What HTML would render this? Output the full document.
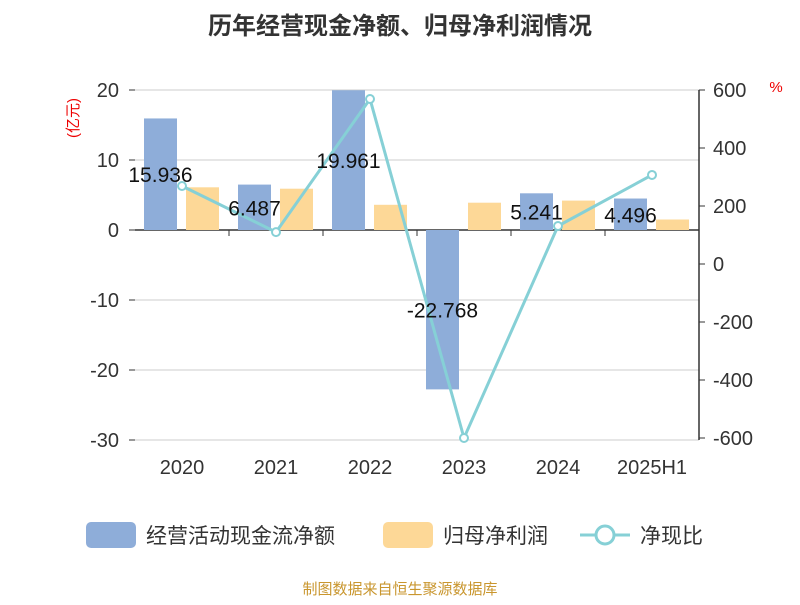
<!DOCTYPE html>
<html><head><meta charset="utf-8"><style>
body{margin:0;background:#fff;font-family:"Liberation Sans","Noto Sans CJK SC",sans-serif;}
</style></head><body>
<svg width="800" height="600" xmlns="http://www.w3.org/2000/svg" font-family="Liberation Sans, Noto Sans CJK SC, sans-serif">
<text x="400" y="34" text-anchor="middle" font-size="24" font-weight="bold" fill="#333">历年经营现金净额、归母净利润情况</text>
<text x="78" y="118" font-size="15" fill="#e00" transform="rotate(-90 78 118)" text-anchor="middle">(亿元)</text>
<text x="776" y="92" font-size="15" fill="#e00" text-anchor="middle">%</text>
<g id="grid"></g><g id="bars"></g><g id="line"></g><g id="axes"></g>
<g>
<rect x="86" y="522" width="50" height="26" rx="5" fill="#8eadd9"/>
<text x="146" y="543" font-size="21" fill="#333">经营活动现金流净额</text>
<rect x="383" y="522" width="50" height="26" rx="5" fill="#fdd897"/>
<text x="443" y="543" font-size="21" fill="#333">归母净利润</text>
<line x1="580" y1="535" x2="630" y2="535" stroke="#86d0d6" stroke-width="3"/>
<circle cx="605" cy="535" r="9" fill="#fff" stroke="#86d0d6" stroke-width="3"/>
<text x="640" y="543" font-size="21" fill="#333">净现比</text>
</g>
<text x="400" y="594" text-anchor="middle" font-size="15" fill="#c9962e">制图数据来自恒生聚源数据库</text>
</svg>
<script>
const categories=["2020","2021","2022","2023","2024","2025H1"];
const cashFlow=[15.936,6.487,19.961,-22.768,5.241,4.496];
const netProfit=[6.1,5.9,3.6,3.9,4.2,1.5];
const ratio=[269,110,569,-600,131,307];
const leftTicks=[20,10,0,-10,-20,-30];
const rightTicks=[600,400,200,0,-200,-400,-600];
const NS="http://www.w3.org/2000/svg";
const x0=135,x1=699,band=(x1-x0)/categories.length;
const yL=v=>230-v*7;
const yR=v=>264-v*0.29;
function mk(t,a,p){const e=document.createElementNS(NS,t);for(const k in a)e.setAttribute(k,a[k]);p.appendChild(e);return e;}
const grid=document.getElementById('grid'),bars=document.getElementById('bars'),line=document.getElementById('line'),axes=document.getElementById('axes');
leftTicks.forEach(v=>{const y=yL(v);
const g=mk('line',{x1:x0,x2:x1,y1:y,y2:y,stroke:v===0?'#333':'#ccc','stroke-width':v===0?1.5:1},grid);

const t=mk('text',{x:x0-16,y:y+7,'text-anchor':'end','font-size':20,fill:'#333'},axes);t.textContent=v;

mk('line',{x1:x0-6,x2:x0,y1:y,y2:y,stroke:'#333'},axes);});
rightTicks.forEach(v=>{const y=yR(v);
mk('line',{x1:x1,x2:x1+6,y1:y,y2:y,stroke:'#333'},axes);
const t=mk('text',{x:x1+14,y:y+7,'font-size':20,fill:'#333'},axes);t.textContent=v;
});
const ax=mk('line',{x1:x1,x2:x1,y1:yL(20),y2:yL(-30),stroke:'#333','stroke-width':1.5},axes);

const clip=v=>Math.max(-30,Math.min(20,v));
categories.forEach((c,i)=>{const cx=x0+band*(i+0.5);
const yb=yL(clip(cashFlow[i]));
const b=mk('rect',{x:cx-38,y:Math.min(yb,230),width:33,height:Math.abs(yb-230),fill:'#8eadd9'},bars);

const yp=yL(netProfit[i]);
const o=mk('rect',{x:cx+4,y:Math.min(yp,230),width:33,height:Math.abs(yp-230),fill:'#fdd897'},bars);

const tk=mk('line',{x1:x0+band*(i+1),x2:x0+band*(i+1),y1:230,y2:236,stroke:'#333'},axes);
const t=mk('text',{x:cx,y:474,'text-anchor':'middle','font-size':20,fill:'#333'},axes);t.textContent=c;
});
let d='';ratio.forEach((v,i)=>{d+=(i?'L':'M')+(x0+band*(i+0.5))+','+yR(v);});
const p=mk('path',{d:d,fill:'none',stroke:'#86d0d6','stroke-width':3},line);

ratio.forEach((v,i)=>{const c=mk('circle',{cx:x0+band*(i+0.5),cy:yR(v),r:4,fill:'#fff',stroke:'#86d0d6','stroke-width':2},line);
});
cashFlow.forEach((v,i)=>{const cx=x0+band*(i+0.5)-21.5;
const y=(230+yL(clip(v)))/2+8;
const t=mk('text',{x:cx,y:y,'text-anchor':'middle','font-size':21,fill:'#111'},line);t.textContent=v;
});
</script>
</body></html>
